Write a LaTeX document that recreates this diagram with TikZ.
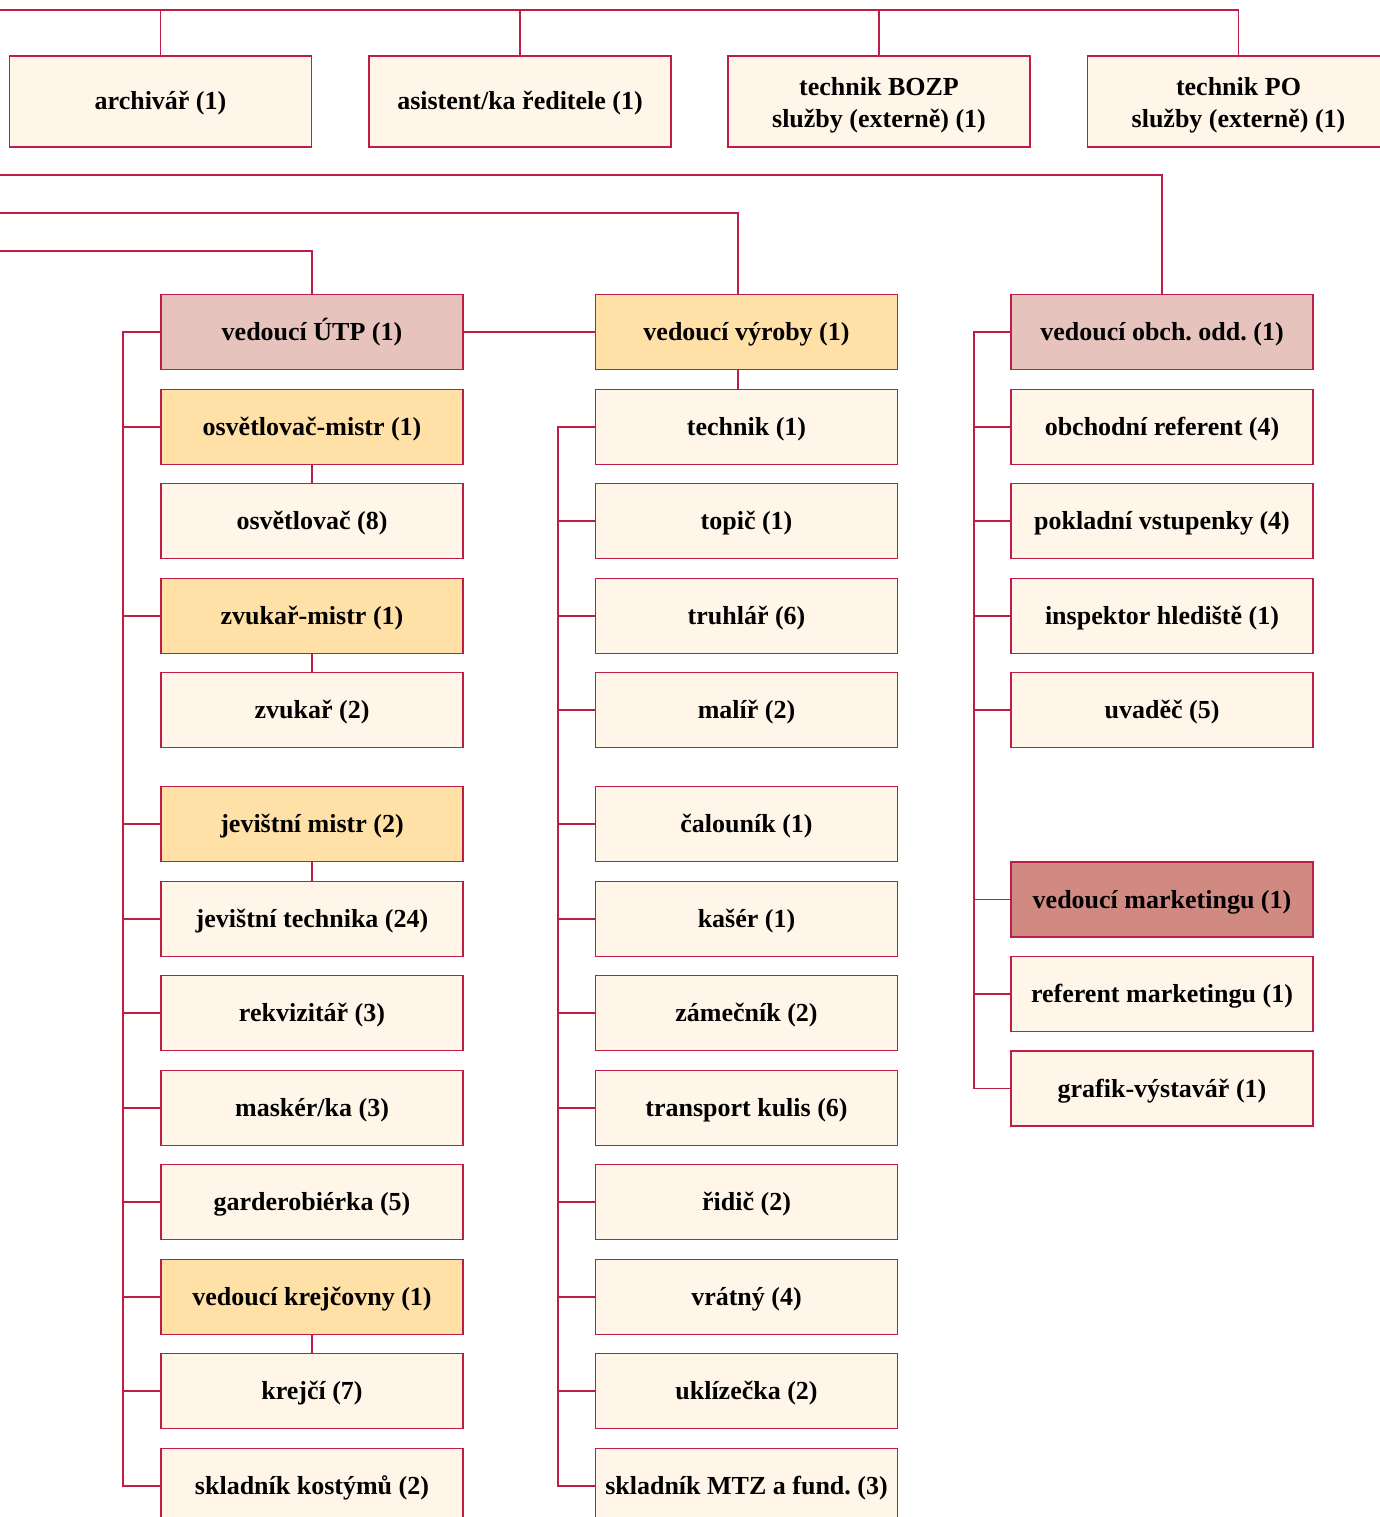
\documentclass[tikz,border=0pt]{standalone}
\usepackage{fontspec}
\setmainfont{Liberation Serif}
\frenchspacing
\definecolor{ln}{RGB}{190,30,70}
\definecolor{cream}{RGB}{255,246,233}
\definecolor{orng}{RGB}{255,224,166}
\definecolor{pnk}{RGB}{230,195,189}
\definecolor{dpnk}{RGB}{208,138,130}
\tikzset{
  box/.style={draw=ln,line width=1.5pt,fill=cream,minimum width=302pt,minimum height=75pt,inner sep=0pt,
    font=\fontsize{26pt}{32pt}\selectfont\bfseries,text=black,align=center,text height=22pt,text depth=5pt},
  tbox/.style={box,minimum height=91pt,text height=,text depth=},
  mbox/.style={box,fill=orng},
  pbox/.style={box,fill=pnk},
  dbox/.style={box,fill=dpnk},
  conn/.style={draw=ln,line width=1.5pt},
}
\begin{document}
\begin{tikzpicture}[x=1pt,y=-1pt]
\useasboundingbox (0,0) rectangle (1379,1517);
% top row
\node[box,minimum height=91pt] (arch) at (160.5,101.5) {archivář (1)};
\node[box,minimum height=91pt] (asis) at (520,101.5) {asistent/ka ředitele (1)};
\node[tbox] (bozp) at (879,101.5) {\rule{0pt}{25pt}technik BOZP\\služby (externě) (1)};
\node[tbox] (po) at (1238.5,101.5) {\rule{0pt}{25pt}technik PO\\služby (externě) (1)};
\coordinate (t0) at (0,10);
\coordinate (l1) at (0,175);
\coordinate (l2) at (0,213);
\coordinate (l3) at (0,251);
\coordinate (b1) at (123,0);
\coordinate (b2) at (558,0);
\coordinate (b3) at (974,0);
% column 1
\node[pbox] (utp) at (312,332) {vedoucí ÚTP (1)};
\node[mbox] (osm) at (312,427) {osvětlovač-mistr (1)};
\node[box] (osv) at (312,521) {osvětlovač (8)};
\node[mbox] (zvm) at (312,616) {zvukař-mistr (1)};
\node[box] (zvu) at (312,710) {zvukař (2)};
\node[mbox] (jem) at (312,824) {jevištní mistr (2)};
\node[box] (jet) at (312,919) {jevištní technika (24)};
\node[box] (rek) at (312,1013) {rekvizitář (3)};
\node[box] (mas) at (312,1108) {maskér/ka (3)};
\node[box] (gar) at (312,1202) {garderobiérka (5)};
\node[mbox] (vkr) at (312,1297) {vedoucí krejčovny (1)};
\node[box] (kre) at (312,1391) {krejčí (7)};
\node[box] (skk) at (312,1486) {skladník kostýmů (2)};
% column 2
\node[mbox] (vyr) at (746.5,332) {vedoucí výroby (1)};
\node[box] (tec) at (746.5,427) {technik (1)};
\node[box] (top) at (746.5,521) {topič (1)};
\node[box] (tru) at (746.5,616) {truhlář (6)};
\node[box] (mal) at (746.5,710) {malíř (2)};
\node[box] (cal) at (746.5,824) {čalouník (1)};
\node[box] (kas) at (746.5,919) {kašér (1)};
\node[box] (zam) at (746.5,1013) {zámečník (2)};
\node[box] (tra) at (746.5,1108) {transport kulis (6)};
\node[box] (rid) at (746.5,1202) {řidič (2)};
\node[box] (vra) at (746.5,1297) {vrátný (4)};
\node[box] (ukl) at (746.5,1391) {uklízečka (2)};
\node[box] (skm) at (746.5,1486) {skladník MTZ a fund. (3)};
% column 3
\node[pbox] (obc) at (1162,332) {vedoucí obch. odd. (1)};
\node[box] (obr) at (1162,427) {obchodní referent (4)};
\node[box] (pok) at (1162,521) {pokladní vstupenky (4)};
\node[box] (ins) at (1162,616) {inspektor hlediště (1)};
\node[box] (uva) at (1162,710) {uvaděč (5)};
\node[dbox] (vmk) at (1162,899.5) {vedoucí marketingu (1)};
\node[box] (rmk) at (1162,994) {referent marketingu (1)};
\node[box] (gra) at (1162,1088.5) {grafik-výstavář (1)};
% top connectors
\draw[conn] (t0) -| (po.north);
\foreach \n in {arch,asis,bozp} \draw[conn] (\n.north) -- (\n.north |- t0);
\draw[conn] (l1) -| (obc.north);
\draw[conn] (l2) -| ([xshift=-8.5pt]vyr.north);
\draw[conn] (l3) -| (utp.north);
% column 1 connectors
\draw[conn] (utp.east) -- (vyr.west);
\draw[conn] (utp.west) -| (b1 |- skk.west) -- (skk.west);
\foreach \n in {osm,zvm,jem,jet,rek,mas,gar,vkr,kre} \draw[conn] (\n.west) -- (\n.west -| b1);
\draw[conn] (osm.south) -- (osv.north);
\draw[conn] (zvm.south) -- (zvu.north);
\draw[conn] (jem.south) -- (jet.north);
\draw[conn] (vkr.south) -- (kre.north);
% column 2 connectors
\draw[conn] ([xshift=-8.5pt]vyr.south) -- ([xshift=-8.5pt]tec.north);
\draw[conn] (tec.west) -| (b2 |- skm.west) -- (skm.west);
\foreach \n in {top,tru,mal,cal,kas,zam,tra,rid,vra,ukl} \draw[conn] (\n.west) -- (\n.west -| b2);
% column 3 connectors
\draw[conn] (obc.west) -| (b3 |- gra.west) -- (gra.west);
\foreach \n in {obr,pok,ins,uva,vmk,rmk} \draw[conn] (\n.west) -- (\n.west -| b3);
\end{tikzpicture}
\end{document}
